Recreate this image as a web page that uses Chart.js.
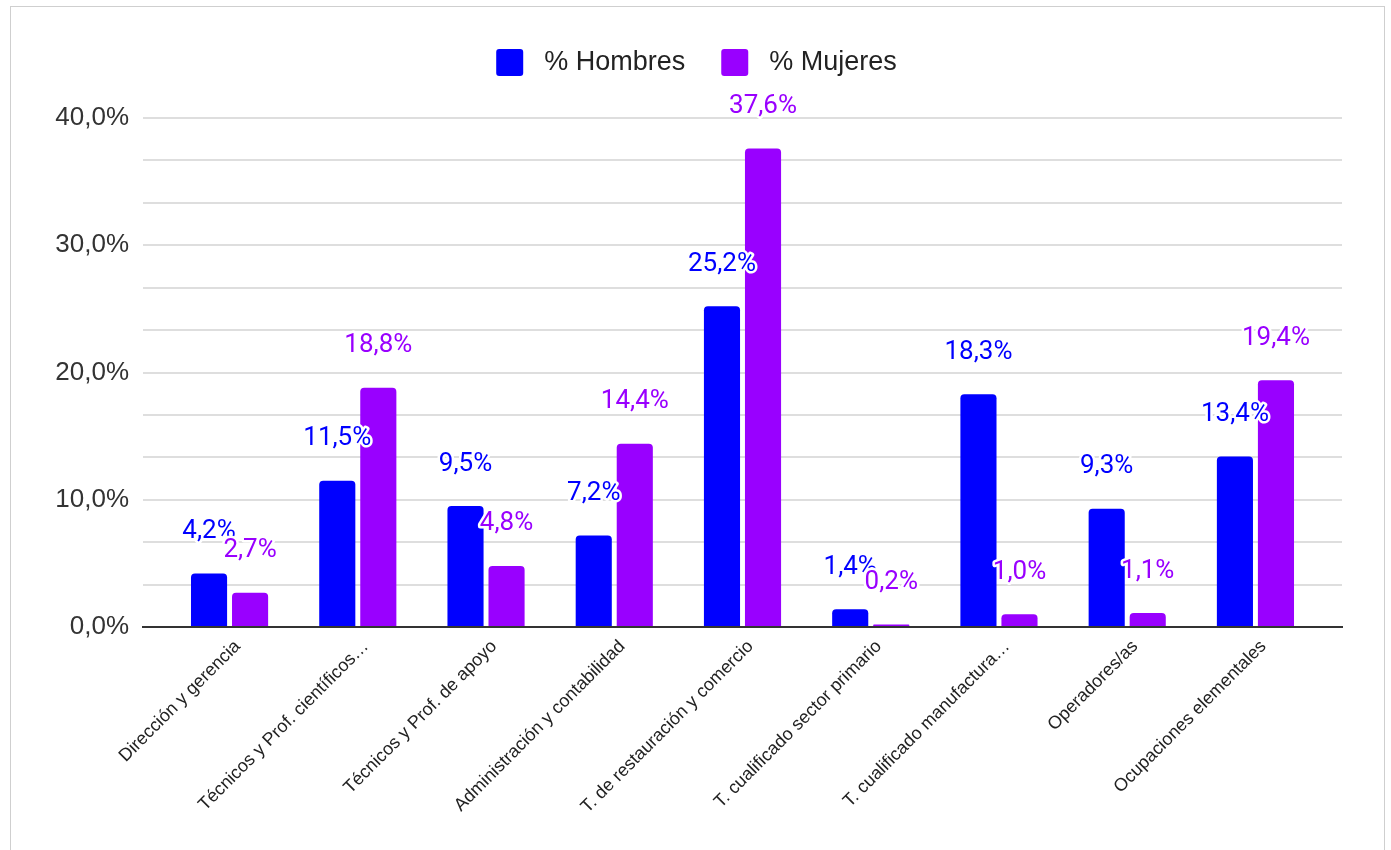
<!DOCTYPE html>
<html lang="es">
<head>
<meta charset="utf-8">
<title>Ocupación por sexo</title>
<script src="https://cdn.jsdelivr.net/npm/chart.js@4.4.1/dist/chart.umd.min.js"></script>
<style>
  html, body { margin: 0; padding: 0; background: #fff; overflow: hidden; }
  #frame {
    position: absolute;
    left: 10px;
    top: 6px;
    width: 1373px;
    height: 900px;
    border: 1px solid #cfcfcf;
    background: #fff;
  }
  #chart { display: block; }
</style>
</head>
<body>
<div id="frame">
  <canvas id="chart" width="1373" height="843"></canvas>
</div>
<script>
// Occupation groups (x axis)
const categories = [
  'Dirección y gerencia',
  'Técnicos y Prof. científicos…',
  'Técnicos y Prof. de apoyo',
  'Administración y contabilidad',
  'T. de restauración y comercio',
  'T. cualificado sector primario',
  'T. cualificado manufactura…',
  'Operadores/as',
  'Ocupaciones elementales'
];

// Share of each sex per group, in %
const hombres = [4.2, 11.5, 9.5, 7.2, 25.2, 1.4, 18.3, 9.3, 13.4];
const mujeres = [2.7, 18.8, 4.8, 14.4, 37.6, 0.2, 1.0, 1.1, 19.4];

// Labelled y ticks; two unlabelled gridlines between each pair
const yTicks = [0, 10, 20, 30, 40];
const minorSteps = 3;

const BLUE = '#0000ff';
const PURPLE = '#9900ff';

const fmtPct = v => v.toFixed(1).replace('.', ',') + '%';

// Value labels above each bar, white halo so they stay readable over other bars
const barLabels = {
  id: 'barLabels',
  afterDatasetsDraw(chart) {
    const ctx = chart.ctx;
    ctx.save();
    ctx.font = '26px Roboto, "Liberation Sans", sans-serif';
    ctx.textAlign = 'center';
    ctx.textBaseline = 'middle';
    ctx.lineJoin = 'round';
    chart.data.datasets.forEach((ds, di) => {
      const meta = chart.getDatasetMeta(di);
      meta.data.forEach((bar, i) => {
        const text = fmtPct(ds.data[i].y);
        const y = bar.y - 42;
        ctx.lineWidth = 5;
        ctx.strokeStyle = '#ffffff';
        ctx.strokeText(text, bar.x, y);
        ctx.fillStyle = ds.backgroundColor;
        ctx.fillText(text, bar.x, y);
      });
    });
    ctx.restore();
  }
};

// Extra room between the legend and the plot; also drop the trailing
// item padding from the row width so the row sits truly centred
const legendGap = {
  id: 'legendGap',
  beforeInit(chart) {
    const fit = chart.legend.fit;
    chart.legend.fit = function () {
      fit.call(this);
      this.height += 32;
      if (this.lineWidths) this.lineWidths = this.lineWidths.map(w => w - 40);
    };
  }
};

const toPoints = arr => arr.map((v, i) => ({ x: i, y: v }));

const gridValues = [];
for (let i = 0; i < yTicks.length - 1; i++) {
  const step = (yTicks[i + 1] - yTicks[i]) / minorSteps;
  for (let k = 0; k < minorSteps; k++) gridValues.push(yTicks[i] + k * step);
}
gridValues.push(yTicks[yTicks.length - 1]);

const barOpts = {
  categoryPercentage: 0.64,
  barPercentage: 0.88,
  borderRadius: { topLeft: 4, topRight: 4 },
  borderSkipped: 'bottom'
};

const defaultLegendLabels = Chart.defaults.plugins.legend.labels.generateLabels;

new Chart(document.getElementById('chart'), {
  type: 'bar',
  data: {
    datasets: [
      Object.assign({ label: '% Hombres', data: toPoints(hombres), backgroundColor: BLUE }, barOpts),
      Object.assign({ label: '% Mujeres', data: toPoints(mujeres), backgroundColor: PURPLE }, barOpts)
    ]
  },
  options: {
    responsive: false,
    devicePixelRatio: 1,
    animation: false,
    layout: { padding: { top: 6, right: 42, left: 0, bottom: 0 } },
    plugins: {
      legend: {
        position: 'top',
        labels: {
          boxWidth: 27,
          boxHeight: 27,
          padding: 36,
          color: '#222',
          useBorderRadius: true,
          borderRadius: 3,
          font: { family: 'Arial, "Liberation Sans", sans-serif', size: 27 },
          // a little more air between swatch and text
          generateLabels: chart => defaultLegendLabels(chart).map(item => {
            item.text = ' ' + item.text;
            return item;
          })
        }
      },
      tooltip: { enabled: false }
    },
    scales: {
      x: {
        type: 'linear',
        min: -0.675,
        max: categories.length - 1 + 0.675,
        offset: false,
        grid: { display: false },
        border: { display: true, color: '#333', width: 2 },
        afterBuildTicks: scale => {
          scale.ticks = categories.map((c, i) => ({ value: i }));
        },
        afterFit: scale => {
          scale.height = 843 - 620;
        },
        ticks: {
          autoSkip: false,
          minRotation: 45,
          maxRotation: 45,
          padding: 1,
          labelOffset: 8,
          color: '#222',
          font: { family: 'Arial, "Liberation Sans", sans-serif', size: 18 },
          callback: v => categories[v]
        }
      },
      y: {
        min: yTicks[0],
        max: yTicks[yTicks.length - 1],
        border: { display: false },
        grid: { color: '#dedede', lineWidth: 2, drawTicks: false },
        afterBuildTicks: scale => {
          scale.ticks = gridValues.map(v => ({ value: v }));
        },
        afterFit: scale => {
          scale.width = 132;
        },
        ticks: {
          padding: 14,
          color: '#333',
          font: { family: 'Arial, "Liberation Sans", sans-serif', size: 26 },
          callback: (v, i) => (i % minorSteps === 0 ? fmtPct(v) : '')
        }
      }
    }
  },
  plugins: [legendGap, barLabels]
});
</script>
</body>
</html>
